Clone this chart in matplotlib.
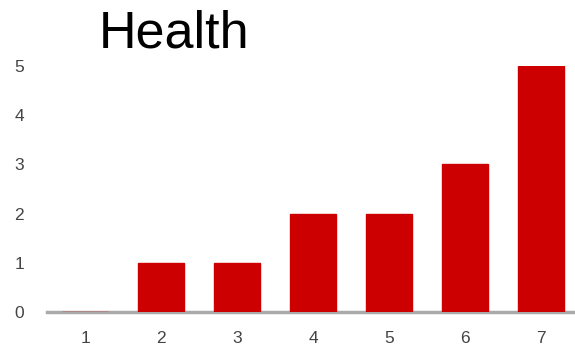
import matplotlib.pyplot as plt
import numpy as np

plt.rcParams['font.family'] = ['Liberation Sans', 'DejaVu Sans']

categories = ['1', '2', '3', '4', '5', '6', '7']
values = [0, 1, 1, 2, 2, 3, 5]
yticks = [0, 1, 2, 3, 4, 5]

fig = plt.figure(figsize=(5.75, 3.51), dpi=100)
ax = fig.add_axes([47 / 575, 39 / 351, 532 / 575, 246 / 351])

x = np.arange(len(categories))
ax.bar(x, values, width=0.6, color='#cc0000', edgecolor='#cc0000', linewidth=1, zorder=3)

ax.set_xlim(-0.5, 6.5)
ax.set_ylim(0, 5)
ax.set_xticks(x)
ax.set_xticklabels(categories)
ax.set_yticks(yticks)
ax.tick_params(length=0, labelsize=12.5, colors='#444444')
ax.tick_params(axis='x', pad=14)
ax.tick_params(axis='y', pad=20)
for lab in ax.get_yticklabels():
    lab.set_horizontalalignment('center')

for s in ['top', 'right', 'left']:
    ax.spines[s].set_visible(False)
ax.spines['bottom'].set_color('#aaaaaa')
ax.spines['bottom'].set_linewidth(2.5)
ax.spines['bottom'].set_zorder(2)

fig.text(174 / 575, 1 - 48 / 351, 'Health', fontsize=37.5, ha='center', va='baseline', color='black')

fig.savefig('out.png', dpi=100)
